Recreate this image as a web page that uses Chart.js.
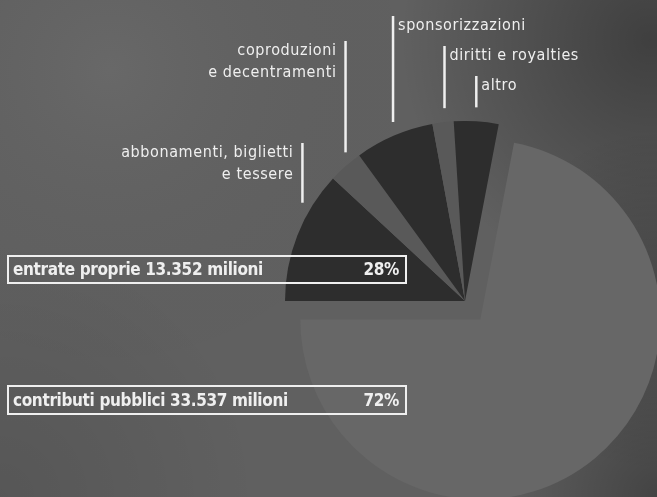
<!DOCTYPE html>
<html lang="it">
<head>
<meta charset="utf-8">
<title>Entrate</title>
<script src="https://cdn.jsdelivr.net/npm/chart.js@4.4.1/dist/chart.umd.min.js"></script>
<style>
  html, body { margin: 0; padding: 0; background: #5f5f5f; overflow: hidden; }
  canvas { display: block; }
</style>
</head>
<body>
<canvas id="pie" width="657" height="497"></canvas>
<script>
// Slices, clockwise from the left: the five "entrate proprie" items, then public funding
const categories = [
  ['abbonamenti, biglietti', 'e tessere'],
  ['coproduzioni', 'e decentramenti'],
  ['sponsorizzazioni'],
  ['diritti e royalties'],
  ['altro'],
  ['contributi pubblici']
];
// share of total revenue, percent
const shares = [11.9, 3.1, 7.1, 1.9, 4.0, 72];

// the two headline groups and which slices belong to each
const groupNames = ['entrate proprie', 'contributi pubblici'];
const groupMillions = [13352, 33537];
const groupMembers = [[0, 1, 2, 3, 4], [5]];

const DARK = '#2d2d2d', MID = '#595959', LIGHT = '#676767';
const INK = '#efefef';
const LABEL_FONT = '16px "DejaVu Sans Condensed", "Liberation Sans Narrow", "Open Sans", sans-serif';
const BOX_FONT = 'bold 17px "DejaVu Sans Condensed", "Liberation Sans Narrow", "Open Sans", sans-serif';

// callout placement per slice: top of the leader line, which side the text sits on
const calloutLayout = [
  { top: 143, side: 'left',  dx: 5,   gap: 21 },
  { top: 41,  side: 'left',  dx: 0,   gap: 14 },
  { top: 16,  side: 'right', dx: -1,  gap: 14 },
  { top: 46,  side: 'right', dx: 1.5, gap: 14 },
  { top: 76,  side: 'right', dx: 0,   gap: 14 },
  null
];
// framed group captions
const groupBoxes = [
  { x: 8, y: 256, w: 398, h: 27, baseline: 275 },
  { x: 8, y: 386, w: 398, h: 28, baseline: 406 }
];

function itNumber(n) {
  return String(n).replace(/\B(?=(\d{3})+(?!\d))/g, '.');
}

// backdrop with darker corners on the right
const backdrop = {
  id: 'backdrop',
  beforeDraw(chart) {
    const { ctx, width, height } = chart;
    ctx.save();
    ctx.fillStyle = '#606060';
    ctx.fillRect(0, 0, width, height);
    const spots = [
      [110, 70, 320, 'rgba(255,255,255,0.05)'],
      [650, 40, 250, 'rgba(0,0,0,0.34)'],
      [660, 300, 170, 'rgba(0,0,0,0.26)'],
      [660, 497, 170, 'rgba(0,0,0,0.30)'],
      [0, 497, 260, 'rgba(0,0,0,0.10)']
    ];
    spots.forEach(([x, y, r, c]) => {
      const g = ctx.createRadialGradient(x, y, 0, x, y, r);
      g.addColorStop(0, c);
      g.addColorStop(1, 'rgba(0,0,0,0)');
      ctx.fillStyle = g;
      ctx.fillRect(0, 0, width, height);
    });
    ctx.restore();
  }
};

// pull a slice out of the pie along its bisector, keeping its radius
const explode = {
  id: 'explode',
  afterDatasetsUpdate(chart) {
    const ds = chart.data.datasets[0];
    chart.getDatasetMeta(0).data.forEach((arc, i) => {
      const d = (ds.explode && ds.explode[i]) || 0;
      if (!d) return;
      const mid = (arc.startAngle + arc.endAngle) / 2;
      arc.x += Math.cos(mid) * d;
      arc.y += Math.sin(mid) * d;
    });
  }
};

const callouts = {
  id: 'callouts',
  afterDatasetsDraw(chart) {
    const ctx = chart.ctx;
    const arcs = chart.getDatasetMeta(0).data;
    ctx.save();
    ctx.strokeStyle = INK;
    ctx.fillStyle = INK;
    ctx.lineWidth = 2.5;
    ctx.font = LABEL_FONT;
    ctx.letterSpacing = '0.6px';
    ctx.textBaseline = 'alphabetic';
    arcs.forEach((arc, i) => {
      const lay = calloutLayout[i];
      if (!lay) return;
      const { x, y, startAngle, endAngle, outerRadius } =
        arc.getProps(['x', 'y', 'startAngle', 'endAngle', 'outerRadius'], true);
      const mid = (startAngle + endAngle) / 2;
      const lx = x + Math.cos(mid) * outerRadius + lay.dx;
      const rimY = y - Math.sqrt(Math.max(outerRadius * outerRadius - (lx - x) * (lx - x), 0));
      ctx.beginPath();
      ctx.moveTo(lx, lay.top);
      ctx.lineTo(lx, rimY - lay.gap);
      ctx.stroke();
      const left = lay.side === 'left';
      ctx.textAlign = left ? 'right' : 'left';
      const tx = left ? lx - 9 : lx + 5;
      categories[i].forEach((line, k) => ctx.fillText(line, tx, lay.top + 13.5 + k * 22.5));
    });

    // group captions with their totals and percentages
    ctx.font = BOX_FONT;
    ctx.letterSpacing = '-0.35px';
    ctx.lineWidth = 2;
    groupBoxes.forEach((b, g) => {
      const pct = groupMembers[g].reduce((s, k) => s + shares[k], 0);
      ctx.strokeRect(b.x, b.y, b.w, b.h);
      ctx.textAlign = 'left';
      ctx.fillText(groupNames[g] + ' ' + itNumber(groupMillions[g]) + ' milioni', b.x + 5, b.baseline);
      ctx.textAlign = 'right';
      ctx.fillText(Math.round(pct) + '%', b.x + b.w - 7, b.baseline);
    });
    ctx.restore();
  }
};

new Chart(document.getElementById('pie'), {
  type: 'pie',
  data: {
    labels: categories,
    datasets: [{
      data: shares,
      backgroundColor: [DARK, MID, DARK, MID, DARK, LIGHT],
      borderWidth: 0,
      explode: [0, 0, 0, 0, 0, 24]
    }]
  },
  options: {
    responsive: false,
    animation: false,
    events: [],
    rotation: -90,
    radius: 180,
    layout: { padding: { left: 273, right: 0, top: 105, bottom: 0 } },
    plugins: {
      legend: { display: false },
      tooltip: { enabled: false }
    }
  },
  plugins: [backdrop, explode, callouts]
});
</script>
</body>
</html>
